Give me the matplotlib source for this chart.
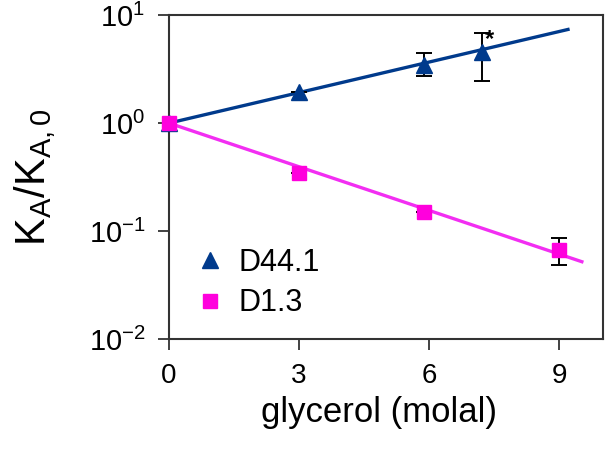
import matplotlib
matplotlib.use("Agg")
import matplotlib.pyplot as plt
from matplotlib.ticker import LogLocator, NullLocator, LogFormatterSciNotation

plt.rcParams["font.family"] = ["Liberation Sans", "DejaVu Sans"]
plt.rcParams["mathtext.fontset"] = "custom"
plt.rcParams["mathtext.rm"] = "Liberation Sans"
plt.rcParams["mathtext.it"] = "Liberation Sans"
plt.rcParams["mathtext.default"] = "regular"

# D44.1 (triangles)
d44_x = [0, 3, 5.87, 7.22]
d44_y = [1.0, 1.94, 3.44, 4.58]
d44_lo = [1.0, 1.94, 2.76, 2.46]
d44_hi = [1.0, 1.94, 4.48, 6.86]
d44_fit_x = [0, 9.2]
d44_fit_y = [1.0, 7.37]

# D1.3 (squares)
d13_x = [0, 3, 5.87, 9]
d13_y = [1.0, 0.347, 0.149, 0.0667]
d13_lo = [1.0, 0.347, 0.149, 0.0484]
d13_hi = [1.0, 0.347, 0.149, 0.0857]
d13_fit_x = [0, 9.52]
d13_fit_y = [1.0, 0.052]

x_ticks = [0, 3, 6, 9]

blue = "#003a8c"
magenta = "#f22ef2"
magenta_mk = "#ff00dd"

fig = plt.figure(figsize=(6.1, 4.59), dpi=100)
ax = fig.add_axes([0.277, 0.2614, 0.711, 0.7056])

ax.plot(d44_fit_x, d44_fit_y, color=blue, lw=2.4, zorder=2)
ax.plot(d13_fit_x, d13_fit_y, color=magenta, lw=2.4, zorder=2)

for xs, ys, lo, hi in [(d44_x, d44_y, d44_lo, d44_hi), (d13_x, d13_y, d13_lo, d13_hi)]:
    yerr = [[y - l for y, l in zip(ys, lo)], [h - y for y, h in zip(ys, hi)]]
    ax.errorbar(xs, ys, yerr=yerr, fmt="none", ecolor="black", elinewidth=1.4,
                capsize=5.5, capthick=1.4, zorder=3)

ax.plot(d44_x, d44_y, "^", color=blue, ms=12, ls="none", label="D44.1",
        clip_on=False, zorder=4)
ax.plot(d13_x, d13_y, "s", color=magenta_mk, ms=10, ls="none", label="D1.3",
        clip_on=False, zorder=4)

ax.text(7.38, 6.0, "*", fontsize=17, fontweight="bold", ha="center", va="center")

ax.set_yscale("log")
ax.set_ylim(1e-2, 1e1)
ax.set_xlim(0, 10)
ax.set_xticks(x_ticks)
ax.yaxis.set_major_locator(LogLocator(base=10, numticks=10))
ax.yaxis.set_major_formatter(LogFormatterSciNotation())
ax.yaxis.set_minor_locator(NullLocator())

ax.tick_params(axis="both", which="major", direction="out", length=8, width=1.3,
               labelsize=21, color="#333333", pad=9)
ax.tick_params(axis="x", labelsize=20, pad=9)
for sp in ax.spines.values():
    sp.set_color("#333333")
    sp.set_linewidth(1.5)

ax.set_xlabel("glycerol (molal)", fontsize=25)
ax.xaxis.set_label_coords(0.484, -0.175)
ax.set_ylabel("K$_{A}$/K$_{A,0}$", fontsize=30, labelpad=22)

ax.legend(loc="center left", bbox_to_anchor=(0.016, 0.173), frameon=False, fontsize=22,
          borderpad=0, handletextpad=0.35, labelspacing=0.35, handlelength=1.2)

fig.savefig("out.png", dpi=100)
